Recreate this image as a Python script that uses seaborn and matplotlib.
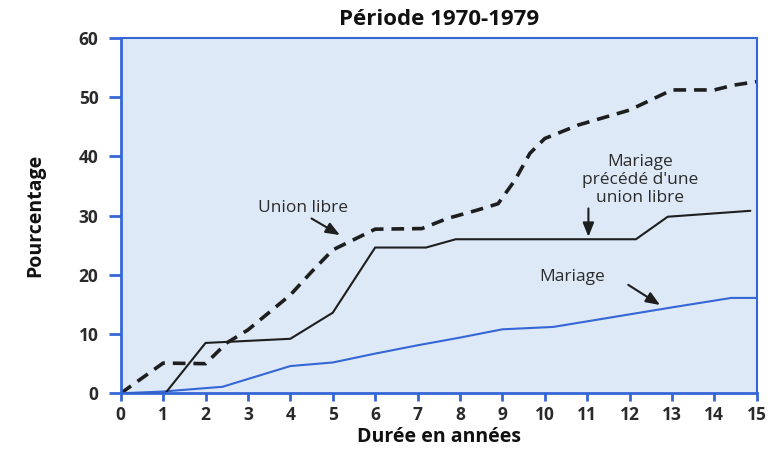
import numpy as np
import pandas as pd
import matplotlib
matplotlib.use("Agg")
import matplotlib.pyplot as plt
import seaborn as sns

# Union libre (dashed)
union_x = [0, 1, 2, 2.5, 3, 4, 4.5, 5, 6, 7.1, 7.7, 8.4, 8.9, 9.3, 9.65, 10, 10.8, 12, 13, 14, 14.45, 15]
union_y = [0, 5.1, 5.0, 8.5, 10.7, 16.6, 20.5, 24.2, 27.7, 27.8, 29.5, 30.9, 32.0, 36.0, 40.5, 43.0, 45.3, 47.8, 51.2, 51.2, 52.0, 52.6]

# Mariage précédé d'une union libre (solid black)
prec_x = [0, 1.05, 2, 4, 5, 6, 7.2, 7.9, 12.15, 12.9, 14.85]
prec_y = [0, 0, 8.5, 9.2, 13.6, 24.6, 24.6, 26.0, 26.0, 29.8, 30.8]

# Mariage (blue)
mar_x = [0, 1, 2.4, 4, 5, 6, 7, 8, 9, 10.2, 13, 14.4, 15]
mar_y = [0, 0.3, 1.1, 4.6, 5.2, 6.7, 8.1, 9.4, 10.8, 11.2, 14.5, 16.1, 16.1]

x_ticks = list(range(0, 16))
y_ticks = [0, 10, 20, 30, 40, 50, 60]

sns.set_theme(style="white")
plt.rcParams['font.family'] = ['Open Sans', 'DejaVu Sans']

blue = "#3566d6"
bg = "#dde9f7"
ink = "#1e1e1e"

fig = plt.figure(figsize=(7.74, 4.5), dpi=100)
ax = fig.add_axes([0.156, 0.126, 0.8217, 0.790])
ax.set_facecolor(bg)

df_u = pd.DataFrame({"x": union_x, "y": union_y})
df_p = pd.DataFrame({"x": prec_x, "y": prec_y})
df_m = pd.DataFrame({"x": mar_x, "y": mar_y})

sns.lineplot(data=df_m, x="x", y="y", ax=ax, color=blue, lw=1.5, sort=False)
sns.lineplot(data=df_p, x="x", y="y", ax=ax, color=ink, lw=1.5, sort=False)
sns.lineplot(data=df_u, x="x", y="y", ax=ax, color=ink, lw=2.6, sort=False,
             linestyle=(0, (3.5, 2.2)))

ax.set_xlim(0, 15)
ax.set_ylim(0, 60)
ax.set_xticks(x_ticks)
ax.set_yticks(y_ticks)
ax.tick_params(axis="y", direction="out", length=9, width=2, color=blue, pad=7,
               labelsize=12.5)
ax.tick_params(axis="x", direction="out", length=6, width=2, color=blue, pad=3,
               labelsize=12.5)
ax.tick_params(left=True, bottom=True)
for lab in ax.get_xticklabels() + ax.get_yticklabels():
    lab.set_fontweight("bold")
    lab.set_color("#2a2a2a")

for s in ax.spines.values():
    s.set_color(blue)
    s.set_linewidth(1.5)
ax.spines["left"].set_linewidth(2)
ax.spines["bottom"].set_linewidth(2)

ax.set_xlabel("Durée en années", fontsize=14, fontweight="bold", color="#111", labelpad=2)
ax.set_ylabel("Pourcentage", fontsize=14, fontweight="bold", color="#111", labelpad=24)
ax.set_title("Période 1970-1979", fontsize=16, fontweight="bold", color="#111", pad=9)

ann = dict(arrowstyle="-|>,head_length=0.7,head_width=0.28", color=ink, lw=1.5,
           shrinkA=0, shrinkB=0)
tkw = dict(ha="center", va="center", fontsize=12.5, color="#2b2b2b")

ax.text(4.3, 31.2, "Union libre", **tkw)
ax.annotate("", xy=(5.17, 26.7), xytext=(4.5, 29.5), arrowprops=ann)

ax.text(12.25, 36.0, "Mariage\nprécédé d'une\nunion libre", linespacing=1.15, **tkw)
ax.annotate("", xy=(11.03, 26.4), xytext=(11.03, 31.2), arrowprops=ann)

ax.text(10.64, 19.7, "Mariage", **tkw)
ax.annotate("", xy=(12.72, 14.9), xytext=(11.97, 18.3), arrowprops=ann)

fig.savefig("out.png", dpi=100)
